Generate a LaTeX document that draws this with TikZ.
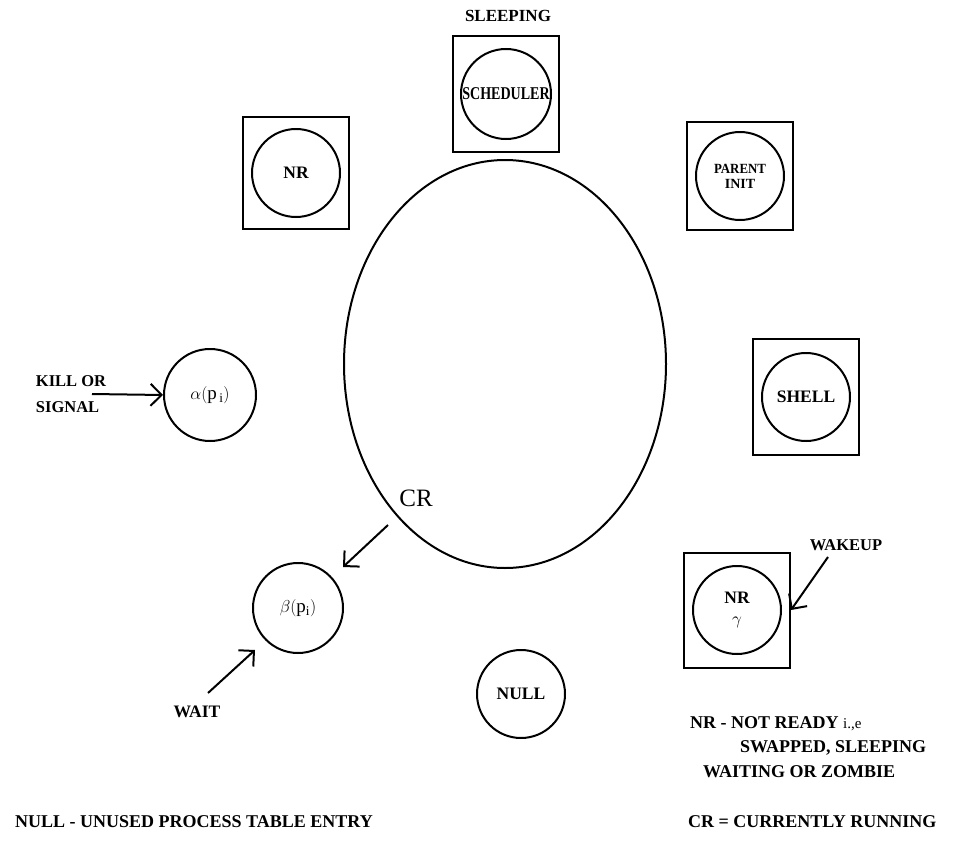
\documentclass[tikz,border=0pt]{standalone}
\usepackage{fontspec}
\setmainfont{Liberation Serif}
\usetikzlibrary{shapes.geometric,arrows.meta}
\begin{document}
\begin{tikzpicture}[x=1pt,y=-1pt,
  proc/.style={circle,draw,line width=2pt,minimum size=88pt,inner sep=0pt,align=center,font=\bfseries\fontsize{17.5}{17.5}\selectfont},
  frame/.style={rectangle,draw,line width=2pt,minimum width=106pt,minimum height=112pt,inner sep=0pt},
  lbl/.style={font=\bfseries\fontsize{16.5}{26}\selectfont,inner sep=0pt,align=left},
  leg/.style={font=\bfseries\fontsize{18}{20}\selectfont,inner sep=0pt,anchor=west},
  arr/.style={line width=2pt,-{Straight Barb[length=11pt,width=22pt,line width=2pt]}}
]
\useasboundingbox (0,0) rectangle (953,867);

% central ellipse
\node[ellipse,draw,line width=2pt,minimum width=322pt,minimum height=408pt,inner sep=0pt] (cr) at (505,364) {};
\node[font=\fontsize{25}{25}\selectfont,inner sep=0pt] (crl) at (416,498) {CR};

% boxed processes
\node[frame] (bnr) at (296,173) {};
\node[proc] (nr) at (296,173) {NR};

\node[frame,minimum height=116pt] (bsch) at (506,94) {};
\node[proc,minimum size=90pt,font=\bfseries\fontsize{18}{18}\selectfont] (sch) at (506,94) {\scalebox{0.78}[1]{SCHEDULER}};
\node[lbl,font=\bfseries\fontsize{17}{19}\selectfont] (sleep) at (508,16) {SLEEPING};

\node[frame,minimum height=108pt] (bpar) at (740,176) {};
\node[proc,font=\bfseries\fontsize{14}{15}\selectfont] (par) at (740,176) {\scalebox{0.92}[1]{PARENT}\\INIT};

\node[frame,minimum height=116pt] (bsh) at (806,397) {};
\node[proc] (sh) at (806,397) {SHELL};

\node[frame,minimum height=115pt] (bnrg) at (737,610) {};
\node[proc] (nrg) at (737,610) {NR\\[4pt]\mdseries$\gamma$};

% free processes
\node[proc,minimum size=92pt,font=\fontsize{19}{19}\selectfont] (alpha) at (210,395) {$\alpha(\mathrm{p}_{\,\mathrm{i}})$};
\node[proc,minimum size=90pt,font=\fontsize{19}{19}\selectfont] (beta) at (298,608) {$\beta(\mathrm{p}_{\mathrm{i}})$};
\node[proc] (null) at (521,694) {NULL};

% external labels
\node[lbl] (kill) at (71,394) {KILL OR\\SIGNAL};
\node[lbl,font=\bfseries\fontsize{17.5}{19}\selectfont] (wait) at (197,712) {WAIT};
\node[lbl] (wake) at (846,545) {WAKEUP};

% arrows
\coordinate (ks) at (92,394);
\draw[arr] (ks) -- (alpha.west);
\coordinate (cs) at (388,525);
\coordinate (ce) at (343,567);
\draw[arr] (cs) -- (ce);
\coordinate (ws) at (208,693);
\coordinate (we) at (255,650);
\draw[arr] (ws) -- (we);
\coordinate (wks) at (828,557);
\draw[arr] (wks) -- (bnrg.east);

% legend
\node[leg] (l1) at (690,724) {NR - NOT READY {\mdseries\fontsize{15}{15}\selectfont i.,e}};
\node[leg] (l2) at (740,748) {SWAPPED, SLEEPING};
\node[leg] (l3) at (703,772) {WAITING OR ZOMBIE};
\node[leg] (l4) at (688,822) {CR = CURRENTLY RUNNING};
\node[leg] (l5) at (15,822) {NULL - UNUSED PROCESS TABLE ENTRY};
\end{tikzpicture}
\end{document}
